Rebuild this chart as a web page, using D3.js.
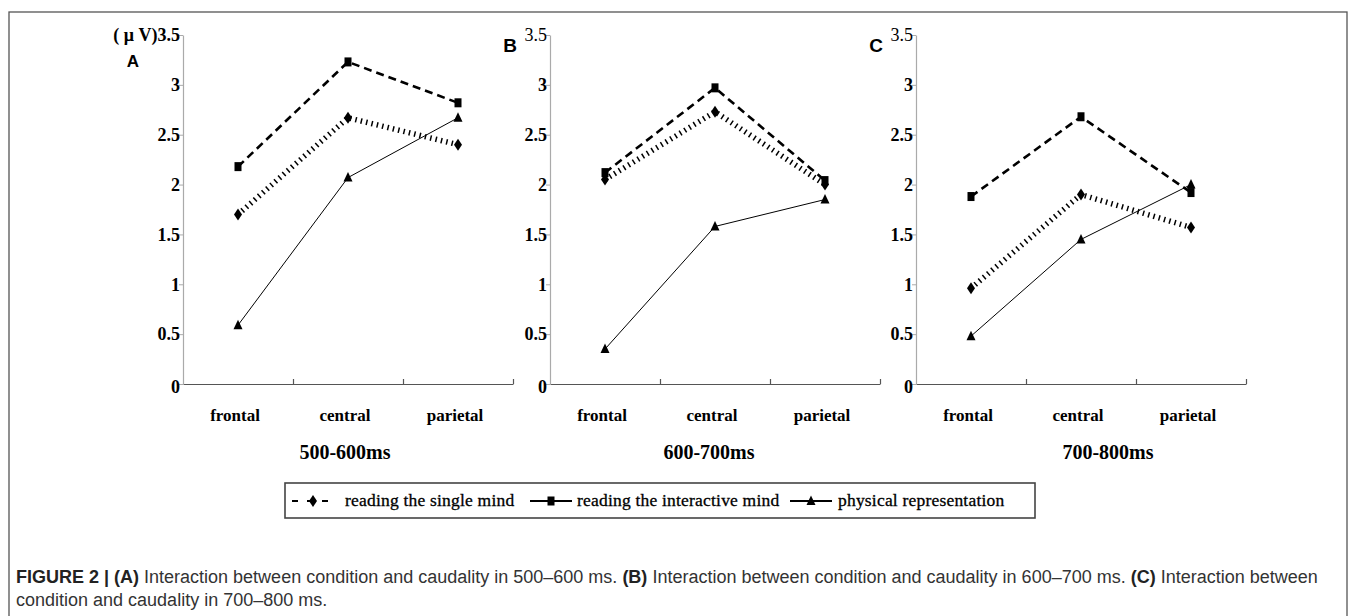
<!DOCTYPE html>
<html>
<head>
<meta charset="utf-8">
<script src="https://cdn.jsdelivr.net/npm/d3@7"></script>
<style>
  body { margin: 0; background: #fff; }
  svg { display: block; }
</style>
</head>
<body>
<div id="chart"></div>
<script>
// chart values
const regions = ["frontal", "central", "parietal"]
const timeWindows = ["500-600ms", "600-700ms", "700-800ms"]
const panelLetters = ["A", "B", "C"]
const singleMind = [[1.70, 2.67, 2.40], [2.05, 2.73, 2.00], [0.96, 1.90, 1.57]]
const interactiveMind = [[2.18, 3.23, 2.82], [2.12, 2.97, 2.04], [1.88, 2.68, 1.92]]
const physicalRep = [[0.59, 2.07, 2.67], [0.35, 1.58, 1.85], [0.48, 1.45, 2.00]]
const yTicks = [0, 0.5, 1, 1.5, 2, 2.5, 3, 3.5]
const seriesNames = ["reading the single mind", "reading the interactive mind", "physical representation"]

var W = 1357, H = 616
var svg = d3.select("#chart").append("svg").attr("width", W).attr("height", H)

// outer frame
svg.append("rect").attr("x", 9).attr("y", 12).attr("width", 1338).attr("height", 620)
    .attr("fill", "none").attr("stroke", "#555").attr("stroke-width", 1.3)

var panelX = [183, 550, 916]
var panelW = 330
var titleShift = [-3, -6, 27]
var ys = d3.scaleLinear().domain([0, 3.5]).range([384, 35])

var serif = "'Liberation Serif', 'Times New Roman', serif"
var sans = "'Liberation Sans', Arial, sans-serif"

// line styles per series
var styles = [
    {width: 5.5, dash: "1.5,4", marker: "diamond"},
    {width: 2.6, dash: "8,5", marker: "square"},
    {width: 1, dash: null, marker: "triangle"}
]

function drawMarker(g, type, cx, cy) {
    if (type == "diamond") {
        g.append("path").attr("d", `M${cx},${cy-6}L${cx+4},${cy}L${cx},${cy+6}L${cx-4},${cy}Z`).attr("fill", "#000")
    } else if (type == "square") {
        g.append("rect").attr("x", cx-3.5).attr("y", cy-4.5).attr("width", 7).attr("height", 9).attr("fill", "#000")
    } else {
        g.append("path").attr("d", `M${cx},${cy-5.5}L${cx+4.5},${cy+4}L${cx-4.5},${cy+4}Z`).attr("fill", "#000")
    }
}

timeWindows.forEach(function(tw, p) {
    var x0 = panelX[p]
    var g = svg.append("g")
    var xs = d3.scaleBand().domain(regions).range([x0, x0 + panelW])
    var xl = d3.scaleLinear().domain([0, 3]).range([x0, x0 + panelW])

    // x axis
    var xa = g.append("g").attr("transform", "translate(0," + ys(0) + ")")
        .call(d3.axisBottom(xl).tickValues([1, 2, 3]).tickSize(-5).tickSizeOuter(0).tickFormat(""))
    xa.selectAll("path,line").attr("stroke", "#555").attr("stroke-width", 1.2)

    // y axis
    var ya = g.append("g").attr("transform", "translate(" + x0 + ",0)")
        .call(d3.axisLeft(ys).tickValues(yTicks).tickSize(4).tickSizeOuter(0)
            .tickFormat(function(d) { return d == 3.5 && p == 0 ? "( \u03bc V)3.5" : d3.format("~g")(d) }))
    ya.select(".domain").attr("stroke", "#aaa").attr("stroke-width", 1.2)
    ya.selectAll(".tick line").attr("stroke", "#aaa")
    ya.selectAll(".tick text")
        .attr("x", -3)
        .style("font-family", serif).style("font-size", "18px")
        .style("font-weight", function(d) { return d == 3.5 && p > 0 ? "normal" : "bold" })
        .attr("fill", "#000")
    ya.selectAll(".tick").filter(function(d) { return d == 0 }).select("text").attr("dy", "0.45em")

    // panel letter
    g.append("text")
        .attr("x", p == 0 ? x0 - 50 : x0 - 40)
        .attr("y", p == 0 ? 67 : 52)
        .attr("text-anchor", "middle")
        .style("font-family", sans).style("font-weight", "bold").style("font-size", p == 0 ? "17px" : "19px")
        .text(panelLetters[p])

    // category labels
    g.selectAll(".cat").data(regions).enter().append("text")
        .attr("x", function(d) { return xs(d) + xs.bandwidth() / 2 - 3 })
        .attr("y", 421)
        .attr("text-anchor", "middle")
        .style("font-family", serif).style("font-weight", "bold").style("font-size", "17px")
        .text(function(d) { return d })

    // time window title
    g.append("text")
        .attr("x", x0 + panelW / 2 + titleShift[p])
        .attr("y", 459)
        .attr("text-anchor", "middle")
        .style("font-family", serif).style("font-weight", "bold").style("font-size", "20px")
        .text(tw)

    // series lines and markers
    var all = [singleMind[p], interactiveMind[p], physicalRep[p]]
    var line = d3.line()
        .x(function(d, i) { return xs(regions[i]) + xs.bandwidth() / 2 })
        .y(function(d) { return ys(d) })
    all.forEach(function(vals, s) {
        g.append("path").datum(vals)
            .attr("d", line)
            .attr("fill", "none")
            .attr("stroke", "#000")
            .attr("stroke-width", styles[s].width)
            .attr("stroke-dasharray", styles[s].dash)
    })
    all.forEach(function(vals, s) {
        vals.forEach(function(v, i) {
            drawMarker(g, styles[s].marker, xs(regions[i]) + xs.bandwidth() / 2, ys(v))
        })
    })
})

// legend
var lg = svg.append("g")
lg.append("rect").attr("x", 285).attr("y", 483).attr("width", 750).attr("height", 35)
    .attr("fill", "none").attr("stroke", "#444").attr("stroke-width", 1.6)
var legX = [292, 530, 790]
var textX = [345, 577, 838]
var ly = 501
seriesNames.forEach(function(name, s) {
    var sx = legX[s]
    var ln = lg.append("line").attr("x1", sx).attr("x2", sx + 42).attr("y1", ly).attr("y2", ly)
        .attr("stroke", "#000").attr("stroke-width", 1.8)
    if (s == 0) ln.attr("stroke-dasharray", "6,9")
    drawMarker(lg, styles[s].marker, sx + 21, ly)
    lg.append("text").attr("x", textX[s]).attr("y", ly + 5)
        .style("font-family", serif).style("font-size", "17.5px").style("letter-spacing", "0.2px")
        .attr("stroke", "#000").attr("stroke-width", 0.3)
        .text(name)
})

// caption
var cap = svg.append("text").attr("x", 16).attr("y", 583)
    .style("font-family", sans).style("font-size", "18px").attr("fill", "#333")
var parts = [
    ["FIGURE 2 | (A)", true], [" Interaction between condition and caudality in 500\u2013600 ms. ", false],
    ["(B)", true], [" Interaction between condition and caudality in 600\u2013700 ms. ", false],
    ["(C)", true], [" Interaction between", false]
]
parts.forEach(function(pt) {
    cap.append("tspan").style("font-weight", pt[1] ? "bold" : "normal").attr("fill", pt[1] ? "#222" : "#333").text(pt[0])
})
svg.append("text").attr("x", 16).attr("y", 606)
    .style("font-family", sans).style("font-size", "18px").attr("fill", "#333")
    .text("condition and caudality in 700\u2013800 ms.")
</script>
</body>
</html>
